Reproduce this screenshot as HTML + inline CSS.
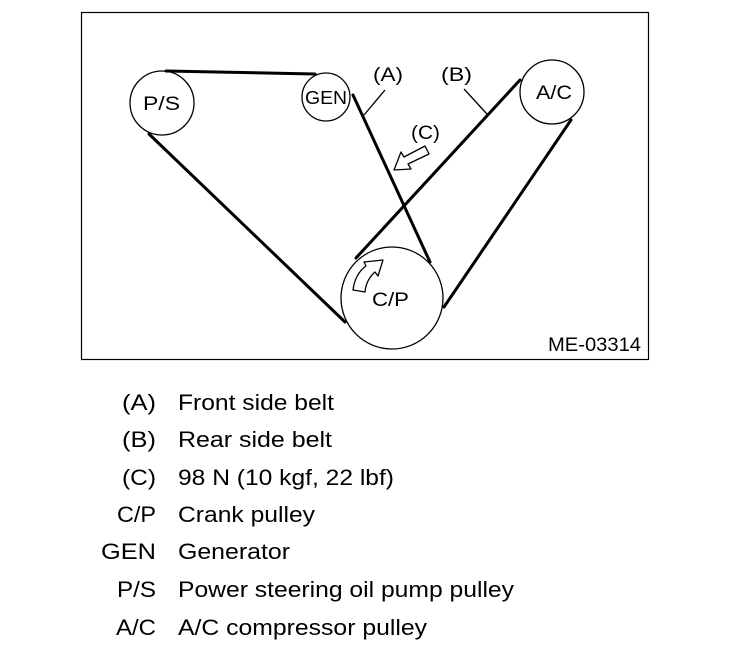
<!DOCTYPE html>
<html><head><meta charset="utf-8"><style>
body{margin:0;background:#fff;width:736px;height:658px;overflow:hidden}
svg{position:absolute;left:0;top:0}
text{font-family:"Liberation Sans",sans-serif;fill:#000}
</style></head><body>
<svg width="736" height="658" viewBox="0 0 736 658">
<rect x="81.5" y="12.5" width="567" height="347" fill="none" stroke="#000" stroke-width="1.2"/>
<g fill="none" stroke="#000" stroke-width="1.3">
<circle cx="162" cy="103" r="32"/>
<circle cx="326" cy="97" r="24"/>
<circle cx="552" cy="92" r="32"/>
<circle cx="392" cy="298" r="51"/>
</g>
<g stroke="#000" stroke-width="3" stroke-linecap="round">
<line x1="166" y1="71" x2="315" y2="74"/>
<line x1="149" y1="134" x2="345" y2="322"/>
<line x1="353" y1="95" x2="430" y2="262"/>
<line x1="520" y1="80" x2="356" y2="258"/>
<line x1="571" y1="120" x2="444" y2="307"/>
</g>
<g stroke="#000" stroke-width="1.3">
<line x1="385" y1="90" x2="364" y2="115"/>
<line x1="464" y1="89" x2="487" y2="114"/>
</g>
<polygon points="394,170 401,152 404,157 425,146 429,154 408,164 411,169" fill="#fff" stroke="#000" stroke-width="1.3" stroke-linejoin="round"/>
<path d="M353,290 Q355,274 366,266 L364,262 L383,260 L378,276 L375,272 Q366,280 365,292 Z" fill="#fff" stroke="#000" stroke-width="1.3" stroke-linejoin="round"/>
<g font-size="19">
<text x="143" y="110" textLength="37" lengthAdjust="spacingAndGlyphs">P/S</text>
<text x="305" y="104" textLength="42" lengthAdjust="spacingAndGlyphs" font-size="18">GEN</text>
<text x="536" y="99" textLength="36" lengthAdjust="spacingAndGlyphs">A/C</text>
<text x="372" y="306" textLength="37" lengthAdjust="spacingAndGlyphs">C/P</text>
<text x="373" y="81" textLength="30" lengthAdjust="spacingAndGlyphs">(A)</text>
<text x="441" y="81" textLength="31" lengthAdjust="spacingAndGlyphs">(B)</text>
<text x="411" y="139" textLength="29" lengthAdjust="spacingAndGlyphs">(C)</text>
<text x="548" y="351" textLength="93" lengthAdjust="spacingAndGlyphs">ME-03314</text>
</g>
<g font-size="22">
<text x="122" y="410" textLength="34" lengthAdjust="spacingAndGlyphs">(A)</text><text x="178" y="410" textLength="156" lengthAdjust="spacingAndGlyphs">Front side belt</text>
<text x="122" y="447" textLength="34" lengthAdjust="spacingAndGlyphs">(B)</text><text x="178" y="447" textLength="154" lengthAdjust="spacingAndGlyphs">Rear side belt</text>
<text x="122" y="485" textLength="34" lengthAdjust="spacingAndGlyphs">(C)</text><text x="178" y="485" textLength="216" lengthAdjust="spacingAndGlyphs">98 N (10 kgf, 22 lbf)</text>
<text x="117" y="522" textLength="39" lengthAdjust="spacingAndGlyphs">C/P</text><text x="178" y="522" textLength="137" lengthAdjust="spacingAndGlyphs">Crank pulley</text>
<text x="101" y="559" textLength="55" lengthAdjust="spacingAndGlyphs">GEN</text><text x="178" y="559" textLength="112" lengthAdjust="spacingAndGlyphs">Generator</text>
<text x="117" y="597" textLength="39" lengthAdjust="spacingAndGlyphs">P/S</text><text x="178" y="597" textLength="336" lengthAdjust="spacingAndGlyphs">Power steering oil pump pulley</text>
<text x="116" y="635" textLength="40" lengthAdjust="spacingAndGlyphs">A/C</text><text x="178" y="635" textLength="249" lengthAdjust="spacingAndGlyphs">A/C compressor pulley</text>
</g>
</svg>
</body></html>
